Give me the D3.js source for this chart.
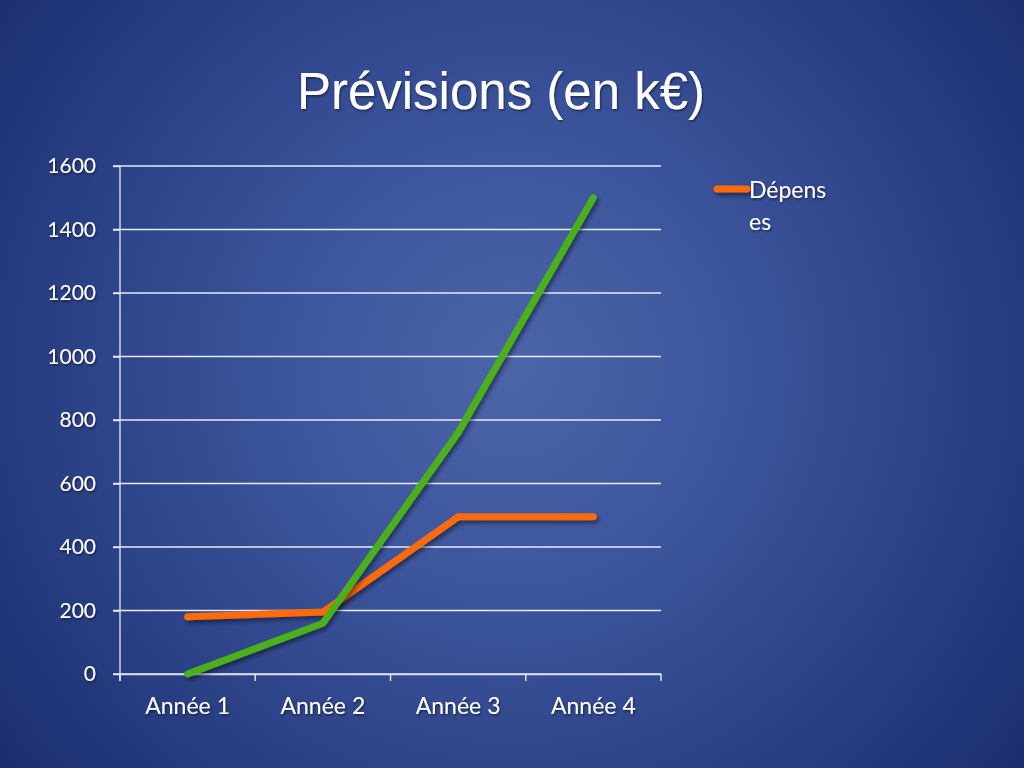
<!DOCTYPE html>
<html><head><meta charset="utf-8">
<script src="https://cdn.jsdelivr.net/npm/d3@7"></script>
<style>html,body{margin:0;padding:0;background:#1f3476;overflow:hidden}</style>
</head><body>
<svg id="c" width="1024" height="768"></svg>
<script>
const categories = ["Année 1", "Année 2", "Année 3", "Année 4"];
const depenses = [180, 195, 495, 495];
const revenus = [0, 160, 760, 1500];
const yTicks = [0, 200, 400, 600, 800, 1000, 1200, 1400, 1600];
const title = "Prévisions (en k€)";
const legendLabel = ["Dépens", "es"];

const svg = d3.select("#c");
const defs = svg.append("defs");
const rg = defs.append("radialGradient").attr("id","bg")
  .attr("gradientUnits","userSpaceOnUse").attr("cx",512).attr("cy",370).attr("r",640);
rg.append("stop").attr("offset","0%").attr("stop-color","#4c64a8");
rg.append("stop").attr("offset","35%").attr("stop-color","#3d559d");
rg.append("stop").attr("offset","100%").attr("stop-color","#1b2f70");
svg.append("rect").attr("width",1024).attr("height",768).attr("fill","url(#bg)");

const sh = defs.append("filter").attr("id","sh").attr("filterUnits","userSpaceOnUse")
  .attr("x",0).attr("y",0).attr("width",1024).attr("height",768);
sh.append("feDropShadow").attr("dx",2).attr("dy",3).attr("stdDeviation",2).attr("flood-color","#000").attr("flood-opacity",0.45);
const tsh = defs.append("filter").attr("id","tsh");
tsh.append("feDropShadow").attr("dx",1).attr("dy",1.5).attr("stdDeviation",1).attr("flood-color","#000").attr("flood-opacity",0.5);

svg.append("text").attr("x",501).attr("y",109).attr("text-anchor","middle")
  .attr("font-family","'Liberation Sans', Arial, sans-serif").attr("font-size",51)
  .attr("fill","#fff").attr("filter","url(#tsh)").text(title);

const x = d3.scaleBand().domain(categories).range([120, 661]);
const y = d3.scaleLinear().domain([0,1600]).range([674, 166]);

// grid lines
const g = svg.append("g");
g.selectAll("line.grid").data(yTicks).join("line")
  .attr("x1",113).attr("x2",661).attr("y1",d=>y(d)).attr("y2",d=>y(d))
  .attr("stroke","#e6ebf5").attr("stroke-width",1.4);

const font = "Lato, 'Open Sans', sans-serif";
// y axis
const yAxis = svg.append("g").attr("transform","translate(120,0)")
  .call(d3.axisLeft(y).tickValues(yTicks).tickFormat(d3.format("d")).tickSize(7).tickPadding(17));
yAxis.select(".domain").attr("stroke","#d8deee").attr("stroke-width",1.4).attr("d","M0,166V681");
yAxis.selectAll(".tick line").attr("stroke","#e6ebf5").attr("stroke-width",1.4);
yAxis.selectAll("text").attr("fill","#fff").attr("font-size",21)
  .attr("font-family",font).attr("filter","url(#tsh)");

// x axis
const xAxis = svg.append("g").attr("transform","translate(0,674)")
  .call(d3.axisBottom(x).tickSize(0).tickPadding(24));
xAxis.select(".domain").attr("stroke","#d8deee").attr("stroke-width",1.4);
const bounds = categories.map(c=>x(c)).concat([x.range()[1]]);
xAxis.selectAll("line.bt").data(bounds).join("line").attr("class","bt")
  .attr("x1",d=>d).attr("x2",d=>d).attr("y1",0).attr("y2",7)
  .attr("stroke","#e6ebf5").attr("stroke-width",1.4);
xAxis.selectAll(".tick text").attr("fill","#fff").attr("font-size",23)
  .attr("font-family",font).attr("filter","url(#tsh)");

const line = d3.line().x((d,i)=>x(categories[i])+x.bandwidth()/2).y(d=>y(d));
svg.append("path").datum(depenses).attr("d",line).attr("fill","none")
  .attr("stroke","#fb6a0e").attr("stroke-width",7).attr("stroke-linecap","round")
  .attr("stroke-linejoin","round").attr("filter","url(#sh)");
svg.append("path").datum(revenus).attr("d",line).attr("fill","none")
  .attr("stroke","#4bb01a").attr("stroke-width",7).attr("stroke-linecap","round")
  .attr("stroke-linejoin","round").attr("filter","url(#sh)");

// legend
svg.append("line").attr("x1",717).attr("x2",747).attr("y1",189).attr("y2",189)
  .attr("stroke","#fb6a0e").attr("stroke-width",7).attr("stroke-linecap","round").attr("filter","url(#sh)");
svg.append("text").attr("x",749).attr("y",198).attr("fill","#fff").attr("font-size",23)
  .attr("font-family",font).attr("filter","url(#tsh)").text(legendLabel[0]);
svg.append("text").attr("x",749).attr("y",230).attr("fill","#fff").attr("font-size",23)
  .attr("font-family",font).attr("filter","url(#tsh)").text(legendLabel[1]);
</script>
</body></html>
